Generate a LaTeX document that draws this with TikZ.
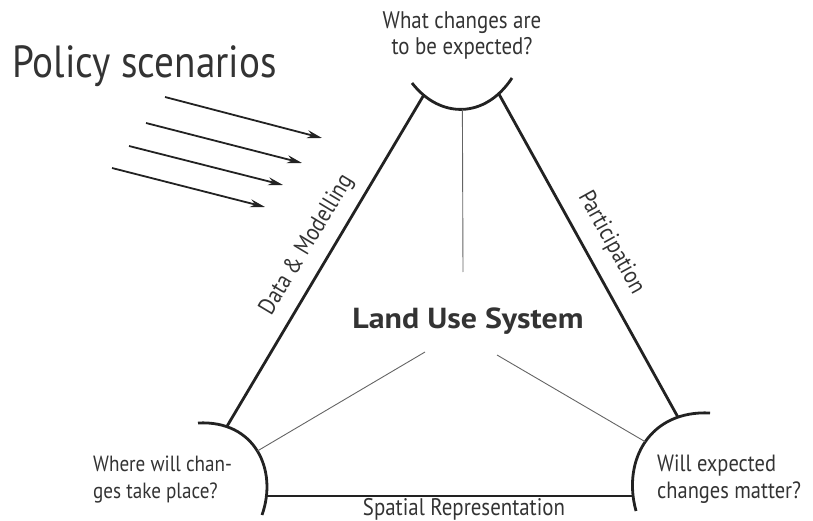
\documentclass[tikz,border=0pt]{standalone}
\usepackage{fontspec}
\setmainfont[FakeStretch=0.87]{PT Sans}
\newfontfamily\lusfont[FakeStretch=1.1]{PT Sans}
\usetikzlibrary{arrows.meta}
\definecolor{ink}{HTML}{222222}
\definecolor{txt}{HTML}{333333}
\begin{document}
\begin{tikzpicture}[x=1pt,y=-1pt,
  thick line/.style={draw=ink,line width=2.8pt},
  thin line/.style={draw=ink!70,line width=0.9pt},
  pol arrow/.style={draw=ink,line width=1.8pt,-{Stealth[length=15pt,width=8pt]}},
  lbl/.style={text=txt,font=\fontsize{24}{26.5}\selectfont,inner sep=0pt},
]
\useasboundingbox (0,0) rectangle (813,521);

% corner arcs
\draw[thick line] (412,83) .. controls (440,119) and (485,119) .. (512,78)
  coordinate[pos=0.13] (tl) coordinate[pos=0.5] (tm) coordinate[pos=0.85] (tr);
\draw[thick line] (198,423) .. controls (255,420) and (278,470) .. (262,515)
  coordinate[pos=0.19] (lt) coordinate[pos=0.5] (lm) coordinate[pos=0.86] (lb);
\draw[thick line] (710,413) .. controls (650,410) and (622,460) .. (636,511)
  coordinate[pos=0.2] (rt) coordinate[pos=0.5] (rm);

% triangle sides
\coordinate (brx) at (632,0);
\draw[thick line] (tl) -- (lt);
\draw[thick line] (tr) -- (rt);
\draw[thick line] (lb) -- (lb -| brx);

% centre
\node[lbl,font=\lusfont\bfseries\fontsize{29}{32}\selectfont,anchor=base] (lus) at (468,328) {Land Use System};
\coordinate (cv) at (463,272);
\coordinate (cl) at (425,352);
\coordinate (cr) at (497,355);
\draw[thin line] (tm) -- (cv);
\draw[thin line] (lm) -- (cl);
\draw[thin line] (rm) -- (cr);

% side labels
\node[lbl,rotate=59] (dm) at (307,245) {Data \& Modelling};
\node[lbl,rotate=-61] (pa) at (611,243) {Participation};
\node[lbl,anchor=base] (sr) at (464,515) {Spatial Representation};

% corner questions
\node[lbl,align=center,anchor=base] (q1) at (462,55) {What changes are\\to be expected?};
\node[lbl,font=\fontsize{22}{26.5}\selectfont,align=left,anchor=base west] (q2) at (93,498) {Where will chan-\\ges take place?};
\node[lbl,font=\fontsize{23.5}{26.5}\selectfont,align=left,anchor=base west] (q3) at (657,498) {Will expected\\changes matter?};

% policy scenarios
\node[lbl,font=\fontsize{45}{50}\selectfont,anchor=base west] (ps) at (12,78) {Policy scenarios};
\coordinate (a1s) at (165,97);  \coordinate (a1e) at (322,138);
\coordinate (a2s) at (146,123); \coordinate (a2e) at (302,163);
\coordinate (a3s) at (129,146); \coordinate (a3e) at (283,185);
\coordinate (a4s) at (112,168); \coordinate (a4e) at (265,207);
\draw[pol arrow] (a1s) -- (a1e);
\draw[pol arrow] (a2s) -- (a2e);
\draw[pol arrow] (a3s) -- (a3e);
\draw[pol arrow] (a4s) -- (a4e);
\end{tikzpicture}
\end{document}
